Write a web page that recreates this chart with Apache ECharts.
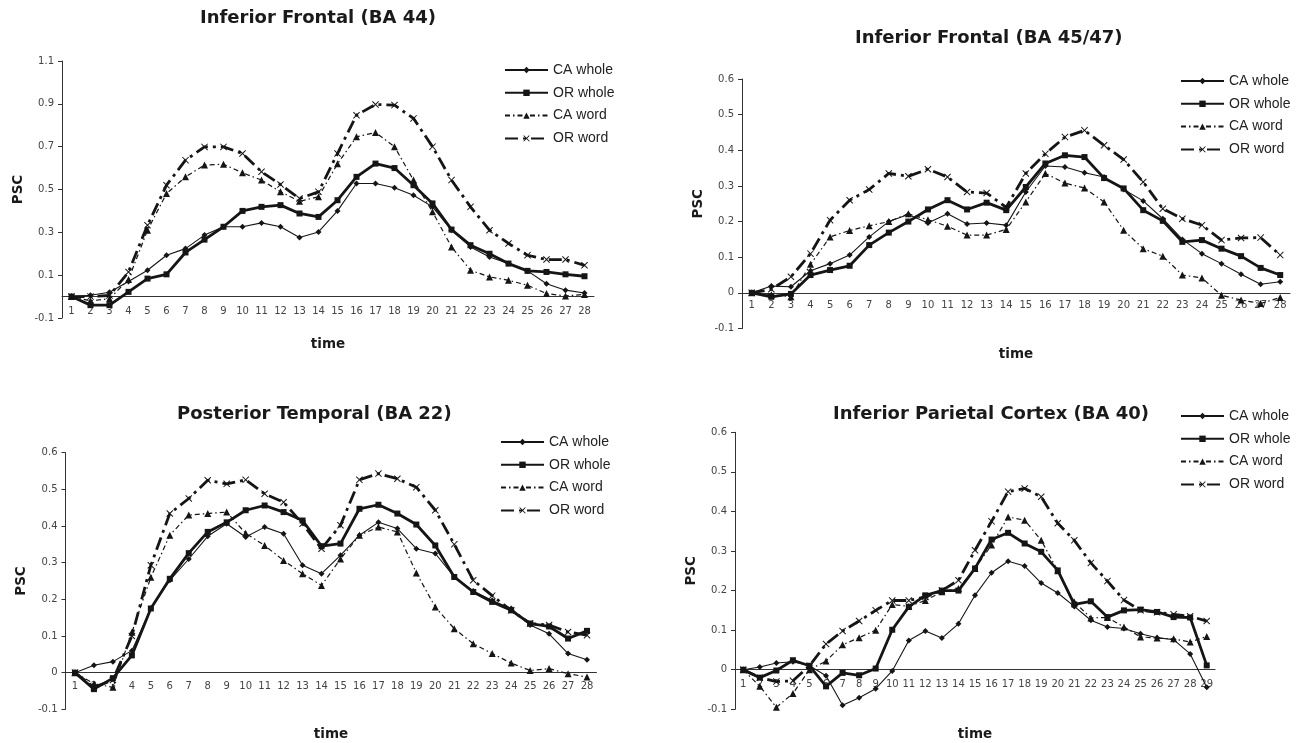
<!DOCTYPE html>
<html>
<head>
<meta charset="utf-8">
<script src="https://cdn.jsdelivr.net/npm/echarts@6/dist/echarts.min.js"></script>
<style>
html,body{margin:0;padding:0;background:#ffffff;}
#chart{width:1304px;height:743px;}
</style>
</head>
<body>
<div id="chart"></div>
<script>
// ---------- DATA ----------
const times28 = ['1','2','3','4','5','6','7','8','9','10','11','12','13','14','15','16','17','18','19','20','21','22','23','24','25','26','27','28'];
const times29 = ['1','2','3','4','5','6','7','8','9','10','11','12','13','14','15','16','17','18','19','20','21','22','23','24','25','26','27','28','29'];

const panelTitles = ['Inferior Frontal (BA 44)', 'Inferior Frontal (BA 45/47)', 'Posterior Temporal (BA 22)', 'Inferior Parietal Cortex (BA 40)'];
const seriesNames = ['CA whole', 'OR whole', 'CA word', 'OR word'];
const yTicksBA44 = [-0.1, 0.1, 0.3, 0.5, 0.7, 0.9, 1.1];

// Inferior Frontal (BA 44)
const caWhole44 = [0, 0.006, 0.02, 0.07, 0.123, 0.193, 0.224, 0.287, 0.326, 0.326, 0.344, 0.326, 0.276, 0.302, 0.40, 0.528, 0.528, 0.508, 0.473, 0.419, 0.31, 0.232, 0.185, 0.154, 0.12, 0.06, 0.03, 0.017];
const orWhole44 = [0, -0.04, -0.04, 0.022, 0.084, 0.104, 0.206, 0.266, 0.326, 0.40, 0.419, 0.427, 0.388, 0.372, 0.45, 0.559, 0.621, 0.60, 0.52, 0.435, 0.313, 0.24, 0.20, 0.154, 0.12, 0.115, 0.104, 0.095];
const caWord44 = [0, -0.02, -0.01, 0.08, 0.31, 0.481, 0.559, 0.614, 0.618, 0.578, 0.544, 0.489, 0.445, 0.466, 0.62, 0.746, 0.766, 0.70, 0.544, 0.396, 0.232, 0.123, 0.092, 0.076, 0.053, 0.014, 0.003, 0.01];
const orWord44 = [0, 0.0, 0.005, 0.115, 0.333, 0.52, 0.637, 0.699, 0.699, 0.668, 0.583, 0.523, 0.458, 0.489, 0.668, 0.847, 0.897, 0.894, 0.832, 0.70, 0.544, 0.419, 0.31, 0.248, 0.193, 0.173, 0.173, 0.146];

// Inferior Frontal (BA 45/47)
const caWhole45 = [0, 0.019, 0.017, 0.062, 0.082, 0.106, 0.157, 0.2, 0.22, 0.196, 0.222, 0.193, 0.196, 0.19, 0.283, 0.356, 0.353, 0.337, 0.325, 0.29, 0.258, 0.208, 0.15, 0.11, 0.082, 0.052, 0.024, 0.031];
const orWhole45 = [0, -0.011, -0.003, 0.05, 0.064, 0.076, 0.134, 0.169, 0.2, 0.234, 0.26, 0.234, 0.253, 0.232, 0.297, 0.363, 0.386, 0.381, 0.322, 0.293, 0.232, 0.202, 0.143, 0.148, 0.124, 0.103, 0.07, 0.05];
const caWord45 = [0, -0.005, -0.011, 0.08, 0.157, 0.175, 0.188, 0.2, 0.222, 0.205, 0.187, 0.162, 0.162, 0.178, 0.255, 0.335, 0.308, 0.294, 0.255, 0.176, 0.124, 0.103, 0.05, 0.042, -0.007, -0.02, -0.03, -0.013];
const orWord45 = [0, 0.01, 0.045, 0.11, 0.204, 0.26, 0.29, 0.335, 0.327, 0.347, 0.325, 0.283, 0.28, 0.24, 0.335, 0.39, 0.437, 0.456, 0.414, 0.374, 0.311, 0.236, 0.208, 0.19, 0.148, 0.154, 0.155, 0.106];

// Posterior Temporal (BA 22)
const caWhole22 = [0, 0.02, 0.03, 0.06, 0.175, 0.252, 0.31, 0.372, 0.406, 0.37, 0.397, 0.379, 0.293, 0.27, 0.32, 0.375, 0.41, 0.393, 0.338, 0.325, 0.261, 0.223, 0.197, 0.175, 0.13, 0.106, 0.052, 0.035];
const orWhole22 = [0, -0.045, -0.015, 0.047, 0.175, 0.256, 0.326, 0.384, 0.41, 0.443, 0.456, 0.438, 0.415, 0.345, 0.352, 0.447, 0.458, 0.434, 0.404, 0.347, 0.261, 0.22, 0.193, 0.17, 0.134, 0.126, 0.093, 0.114];
const caWord22 = [0, -0.03, -0.04, 0.11, 0.26, 0.375, 0.43, 0.434, 0.438, 0.38, 0.347, 0.306, 0.27, 0.238, 0.31, 0.375, 0.397, 0.384, 0.272, 0.179, 0.12, 0.079, 0.052, 0.026, 0.006, 0.011, -0.003, -0.012];
const orWord22 = [0, -0.04, -0.02, 0.10, 0.293, 0.434, 0.475, 0.525, 0.515, 0.526, 0.488, 0.465, 0.406, 0.338, 0.402, 0.526, 0.543, 0.529, 0.506, 0.443, 0.35, 0.252, 0.21, 0.17, 0.134, 0.13, 0.111, 0.102];

// Inferior Parietal Cortex (BA 40)
const caWhole40 = [0, 0.007, 0.017, 0.02, 0.01, -0.015, -0.09, -0.071, -0.048, -0.003, 0.074, 0.098, 0.08, 0.116, 0.188, 0.245, 0.274, 0.262, 0.219, 0.194, 0.16, 0.125, 0.108, 0.104, 0.091, 0.081, 0.076, 0.04, -0.044];
const orWhole40 = [0, -0.02, -0.002, 0.024, 0.01, -0.042, -0.008, -0.014, 0.003, 0.101, 0.159, 0.188, 0.2, 0.2, 0.256, 0.329, 0.346, 0.319, 0.298, 0.251, 0.165, 0.173, 0.133, 0.15, 0.152, 0.146, 0.133, 0.132, 0.011];
const caWord40 = [0, -0.042, -0.095, -0.06, 0.0, 0.022, 0.063, 0.081, 0.1, 0.165, 0.16, 0.175, 0.197, 0.205, 0.256, 0.315, 0.386, 0.378, 0.327, 0.25, 0.171, 0.131, 0.132, 0.108, 0.083, 0.08, 0.078, 0.07, 0.084];
const orWord40 = [0, -0.02, -0.03, -0.028, 0.01, 0.065, 0.098, 0.123, 0.15, 0.175, 0.175, 0.184, 0.2, 0.226, 0.302, 0.375, 0.45, 0.458, 0.437, 0.37, 0.327, 0.27, 0.224, 0.176, 0.15, 0.145, 0.14, 0.135, 0.123];

// ---------- LAYOUT / STYLE ----------
const FONT = '"Liberation Sans", Arial, sans-serif';
const WIDE = '"DejaVu Sans", Verdana, sans-serif';
const INK = '#151515';
const X_SYMBOL = 'path://M0,1L1,0L5,4L9,0L10,1L6,5L10,9L9,10L5,6L1,10L0,9L4,5Z';

const lineStyles = [
  { width: 1.1, type: 'solid', symbol: 'diamond', symbolSize: 6 },
  { width: 2.8, type: 'solid', symbol: 'rect', symbolSize: 6 },
  { width: 1.2, type: [5, 3, 1.5, 3], symbol: 'triangle', symbolSize: 7 },
  { width: 2.8, type: [13, 5, 3, 5], symbol: X_SYMBOL, symbolSize: 7 }
];

const panels = [
  { title: panelTitles[0], titleLeft: 200, titleTop: 9,
    grid: { left: 62, top: 61, width: 532, height: 257 },
    cats: times28, data: [caWhole44, orWhole44, caWord44, orWord44],
    yMin: -0.1, yMax: 1.1, yInterval: 0.2, yTicks: yTicksBA44,
    legend: { left: 504, top: 63 }, timeGap: 19, labelMargin: -12 },
  { title: panelTitles[1], titleLeft: 855, titleTop: 29,
    grid: { left: 742, top: 79, width: 548, height: 249.5 },
    cats: times28, data: [caWhole45, orWhole45, caWord45, orWord45],
    yMin: -0.1, yMax: 0.6, yInterval: 0.1, yTicks: null,
    legend: { left: 1180, top: 74 }, timeGap: 18.5, labelMargin: -28 },
  { title: panelTitles[2], titleLeft: 177, titleTop: 405,
    grid: { left: 65.5, top: 452.7, width: 531, height: 256.6 },
    cats: times28, data: [caWhole22, orWhole22, caWord22, orWord22],
    yMin: -0.1, yMax: 0.6, yInterval: 0.1, yTicks: null,
    legend: { left: 500, top: 435 }, timeGap: 17.7, labelMargin: -28 },
  { title: panelTitles[3], titleLeft: 833, titleTop: 405,
    grid: { left: 735, top: 432.3, width: 480, height: 277 },
    cats: times29, data: [caWhole40, orWhole40, caWord40, orWord40],
    yMin: -0.1, yMax: 0.6, yInterval: 0.1, yTicks: null,
    legend: { left: 1180, top: 409 }, timeGap: 17.7, labelMargin: -30 }
];

const option = {
  animation: false,
  backgroundColor: '#ffffff',
  textStyle: { fontFamily: FONT },
  title: [], grid: [], xAxis: [], yAxis: [], legend: [], series: []
};

panels.forEach((p, i) => {
  option.title.push({
    text: p.title, left: p.titleLeft, top: p.titleTop, padding: 0,
    textStyle: { fontFamily: WIDE, fontSize: 18, fontWeight: 'bold', color: '#1a1a1a' }
  });
  option.grid.push(Object.assign({ containLabel: false, outerBoundsMode: 'none' }, p.grid));
  option.xAxis.push({
    type: 'category', gridIndex: i, data: p.cats, boundaryGap: true,
    name: 'time', nameLocation: 'middle', nameGap: p.timeGap,
    nameTextStyle: { fontFamily: WIDE, fontSize: 13.5, fontWeight: 'bold', color: '#1a1a1a' },
    axisLine: { show: true, onZero: true, lineStyle: { color: '#333', width: 1 } },
    axisTick: { show: false },
    axisLabel: { interval: 0, margin: p.labelMargin, fontSize: 10, color: '#444', fontFamily: WIDE },
    splitLine: { show: false }
  });
  const yLabel = { fontSize: 10, color: '#444', margin: 8, fontFamily: WIDE };
  const yTick = { show: true, inside: false, length: 4, lineStyle: { color: '#333' } };
  if (p.yTicks) { yLabel.customValues = p.yTicks; yTick.customValues = p.yTicks; }
  option.yAxis.push({
    type: 'value', gridIndex: i, min: p.yMin, max: p.yMax, interval: p.yInterval,
    name: 'PSC', nameLocation: 'middle', nameRotate: 90, nameGap: 37,
    nameTextStyle: { fontFamily: WIDE, fontSize: 13.5, fontWeight: 'bold', color: '#1a1a1a' },
    axisLine: { show: true, lineStyle: { color: '#333', width: 1 } },
    axisTick: yTick,
    axisLabel: yLabel,
    splitLine: { show: false }
  });
  option.legend.push({
    data: seriesNames, orient: 'vertical', left: p.legend.left, top: p.legend.top,
    padding: 0, itemWidth: 43, itemHeight: 8, itemGap: 8.8,
    textStyle: { fontFamily: FONT, fontSize: 14, color: '#222' },
    selectedMode: false
  });
  p.data.forEach((vals, k) => {
    const st = lineStyles[k];
    option.series.push({
      type: 'line', name: seriesNames[k], xAxisIndex: i, yAxisIndex: i,
      data: vals, symbol: st.symbol, symbolSize: st.symbolSize,
      showSymbol: true, showAllSymbol: true, smooth: false,
      lineStyle: { color: INK, width: st.width, type: st.type },
      itemStyle: { color: INK, borderColor: INK, borderWidth: 0 },
      emphasis: { disabled: true },
      z: 2 + k
    });
  });
});

const chart = echarts.init(document.getElementById('chart'), null, { renderer: 'canvas' });
chart.setOption(option);
</script>
</body>
</html>
